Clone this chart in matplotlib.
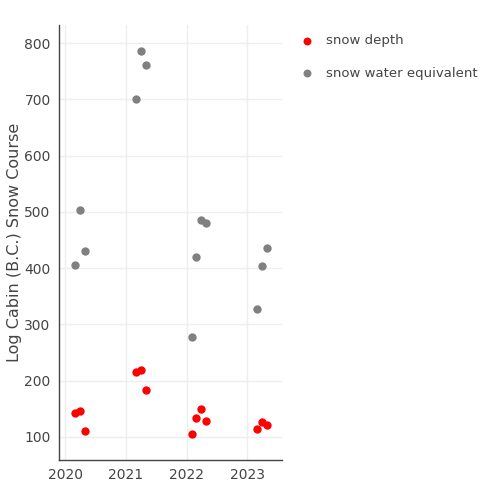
import datetime as dt
import matplotlib
matplotlib.use("Agg")
import matplotlib.pyplot as plt
import matplotlib.dates as mdates

# === DATA ===
dates = ["2020-03-01", "2020-04-01", "2020-05-01",
         "2021-03-01", "2021-04-01", "2021-05-01",
         "2022-02-01", "2022-03-01", "2022-04-01", "2022-05-01",
         "2023-03-01", "2023-04-01", "2023-05-01"]
snow_depth = [142, 146, 111,
              216, 219, 183,
              106, 134, 150, 128,
              114, 127, 121]
snow_water_equivalent = [405, 504, 430,
                         700, 786, 761,
                         277, 419, 485, 481,
                         327, 404, 435]

x = [dt.datetime.strptime(d, "%Y-%m-%d") for d in dates]

# === PLOT ===
plt.rcParams["font.family"] = ["DejaVu Sans"]
fig = plt.figure(figsize=(5, 5), dpi=100)
ax = fig.add_axes([0.118, 0.08, 0.446, 0.87])

ax.scatter(x, snow_depth, s=36, color="#ff0000", label="snow depth", zorder=3, linewidths=0)
ax.scatter(x, snow_water_equivalent, s=36, color="#808080", label="snow water equivalent",
           zorder=3, linewidths=0)

ax.set_xlim(dt.datetime(2019, 11, 25), dt.datetime(2023, 7, 30))
ax.set_ylim(59, 832)
ax.xaxis.set_major_locator(mdates.YearLocator())
ax.xaxis.set_major_formatter(mdates.DateFormatter("%Y"))
ax.set_yticks([100, 200, 300, 400, 500, 600, 700, 800])

ax.grid(True, color="#eeeeee", linewidth=1)
ax.set_axisbelow(True)
for side in ["top", "right"]:
    ax.spines[side].set_visible(False)
for side in ["left", "bottom"]:
    ax.spines[side].set_color("#444444")
    ax.spines[side].set_linewidth(1)
ax.tick_params(length=0, labelsize=10, labelcolor="#444444", pad=6)
ax.set_ylabel("Log Cabin (B.C.) Snow Course", fontsize=11.5, color="#444444")
ax.yaxis.set_label_coords(-0.165, 0.5)

fig.legend(loc="upper left", bbox_to_anchor=(0.563, 0.955), frameon=False,
           fontsize=9.5, labelcolor="#444444", handletextpad=0.5, labelspacing=1.45,
           markerscale=0.95)

fig.savefig("out.png", dpi=100)
